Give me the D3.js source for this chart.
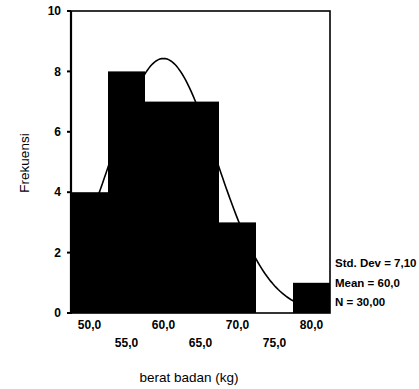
<!DOCTYPE html>
<html>
<head>
<meta charset="utf-8">
<script src="https://cdn.jsdelivr.net/npm/d3@7"></script>
<style>
  body { margin: 0; background: #fff; }
  svg { display: block; font-family: "Liberation Sans", Arial, sans-serif; }
</style>
</head>
<body>
<div id="graph"></div>
<script>
// histogram bins (midpoints) and frequencies
var binMids = [50, 55, 60, 65, 70, 75, 80];
var freqs = [4, 8, 7, 7, 3, 0, 1];
var yTicks = [0, 2, 4, 6, 8, 10];
var xTickLabels = ["50,0", "55,0", "60,0", "65,0", "70,0", "75,0", "80,0"];
var statLabels = ["Std. Dev = 7,10", "Mean = 60,0", "N = 30,00"];
var stdDev = 7.10, mean = 60.0, n = 30;
var binWidth = 5;

var W = 419, H = 389;
var plotL = 71, plotR = 330, plotT = 11, plotB = 313;

var x = d3.scaleLinear().domain([47.5, 82.5]).range([plotL, plotR]);
var y = d3.scaleLinear().domain([0, 10]).range([plotB, plotT]);

var svg = d3.select("#graph").append("svg")
    .attr("width", W)
    .attr("height", H);

// bars
svg.append("g")
  .selectAll("rect")
  .data(binMids.map((m, i) => ({mid: m, f: freqs[i]})).filter(d => d.f > 0))
  .join("rect")
    .attr("x", d => x(d.mid - binWidth / 2))
    .attr("width", d => x(d.mid + binWidth / 2) - x(d.mid - binWidth / 2))
    .attr("y", d => y(d.f))
    .attr("height", d => y(0) - y(d.f))
    .attr("fill", "#000");

// normal curve from mean / std dev
var normal = v => n * binWidth / (stdDev * Math.sqrt(2 * Math.PI)) *
    Math.exp(-0.5 * Math.pow((v - mean) / stdDev, 2));
var curvePts = d3.range(47.5, 82.51, 0.25).map(v => [v, normal(v)]);
svg.append("path")
    .datum(curvePts)
    .attr("fill", "none")
    .attr("stroke", "#000")
    .attr("stroke-width", 1.6)
    .attr("d", d3.line().x(d => x(d[0])).y(d => y(d[1])));

// frame
svg.append("rect")
    .attr("x", plotL).attr("y", plotT)
    .attr("width", plotR - plotL).attr("height", plotB - plotT)
    .attr("fill", "none")
    .attr("stroke", "#000")
    .attr("stroke-width", 1.6);
svg.append("line")
    .attr("x1", plotL).attr("x2", plotL)
    .attr("y1", plotT).attr("y2", plotB + 1)
    .attr("stroke", "#000").attr("stroke-width", 2.2);

// y axis ticks + labels
var yg = svg.append("g");
yg.selectAll("line")
  .data(yTicks)
  .join("line")
    .attr("x1", plotL - 4).attr("x2", plotL)
    .attr("y1", d => y(d)).attr("y2", d => y(d))
    .attr("stroke", "#000").attr("stroke-width", 2);
yg.selectAll("text")
  .data(yTicks)
  .join("text")
    .attr("x", 61)
    .attr("y", d => y(d))
    .attr("dy", "0.35em")
    .attr("text-anchor", "end")
    .attr("font-size", 12)
    .attr("font-weight", "bold")
    .text(d => d);

// x axis labels (staggered)
svg.append("g")
  .selectAll("text")
  .data(binMids)
  .join("text")
    .attr("x", d => x(d))
    .attr("y", (d, i) => i % 2 === 0 ? 325 : 343)
    .attr("dy", "0.35em")
    .attr("text-anchor", "middle")
    .attr("font-size", 12)
    .attr("font-weight", "bold")
    .text((d, i) => xTickLabels[i]);

// axis titles
svg.append("text")
    .attr("x", 189).attr("y", 377)
    .attr("dy", "0.35em")
    .attr("text-anchor", "middle")
    .attr("font-size", 13.5)
    .text("berat badan (kg)");
svg.append("text")
    .attr("transform", "translate(24,163) rotate(-90)")
    .attr("dy", "0.35em")
    .attr("text-anchor", "middle")
    .attr("font-size", 13.5)
    .text("Frekuensi");

// stats
svg.append("g")
  .selectAll("text")
  .data(statLabels)
  .join("text")
    .attr("x", 335)
    .attr("y", (d, i) => 263 + i * 19.5)
    .attr("dy", "0.35em")
    .attr("font-size", 11.5)
    .attr("font-weight", "bold")
    .text(d => d);
</script>
</body>
</html>
